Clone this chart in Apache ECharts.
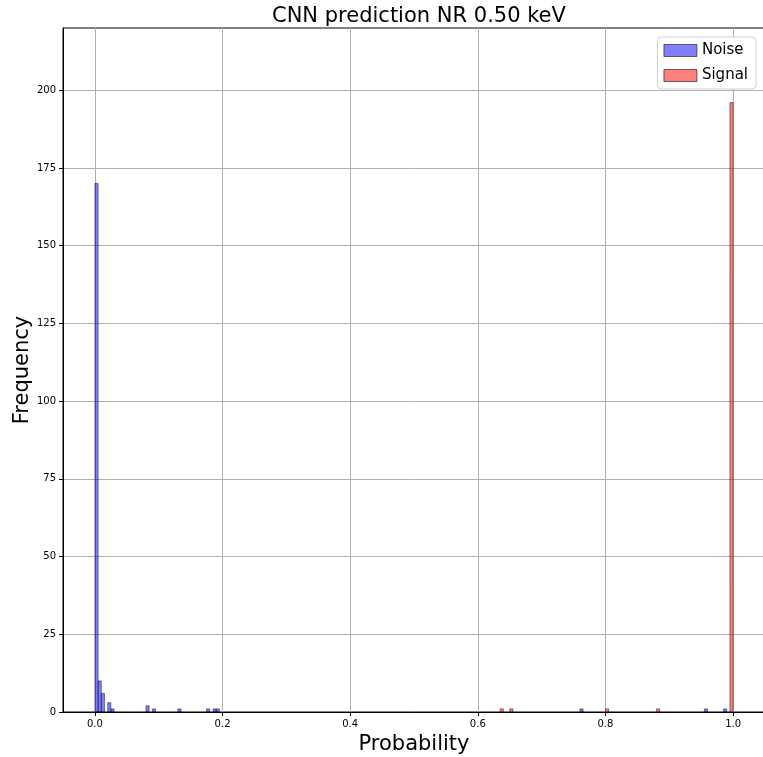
<!DOCTYPE html>
<html>
<head>
<meta charset="utf-8">
<script src="https://cdn.jsdelivr.net/npm/echarts@6/dist/echarts.min.js"></script>
<style>html,body{margin:0;padding:0;background:#fff}#c{width:763px;height:757px}</style>
</head>
<body>
<div id="c"></div>
<script>
const titleText = 'CNN prediction NR 0.50 keV';
const binWidth = 0.005;
const noiseBinStart = [0.0, 0.005, 0.01, 0.02, 0.025, 0.08, 0.09, 0.13, 0.175, 0.185, 0.19, 0.76, 0.955, 0.985];
const noiseCounts   = [170, 10, 6, 3, 1, 2, 1, 1, 1, 1, 1, 1, 1, 1];
const signalBinStart = [0.635, 0.65, 0.8, 0.88, 0.995];
const signalCounts   = [1, 1, 1, 1, 196];
const xTicks = [0.0, 0.2, 0.4, 0.6, 0.8, 1.0];
const yTicks = [0, 25, 50, 75, 100, 125, 150, 175, 200];

const FONT = 'DejaVu Sans';
function histSeries(name, starts, counts, fill) {
  return {
    name: name,
    type: 'custom',
    itemStyle: { color: fill, borderColor: 'rgba(0,0,0,0.5)' },
    data: starts.map((s, i) => [s, s + binWidth, counts[i]]),
    encode: { x: [0, 1], y: 2 },
    renderItem: function (params, api) {
      const p0 = api.coord([api.value(0), api.value(2)]);
      const p1 = api.coord([api.value(1), 0]);
      return {
        type: 'rect',
        shape: { x: p0[0], y: p0[1], width: p1[0] - p0[0], height: p1[1] - p0[1] },
        style: { fill: fill, stroke: 'rgba(0,0,0,0.55)', lineWidth: 0.8 }
      };
    }
  };
}

const chart = echarts.init(document.getElementById('c'), null, { renderer: 'canvas' });
chart.setOption({
  animation: false,
  backgroundColor: '#fff',
  title: {
    text: titleText, left: 267, top: 1,
    textStyle: { fontFamily: FONT, fontSize: 21, fontWeight: 'normal', color: '#000' }
  },
  legend: {
    orient: 'vertical', right: 7, top: 37,
    itemWidth: 33, itemHeight: 12, itemGap: 10,
    backgroundColor: '#fff', borderColor: '#d0d0d0', borderWidth: 1, borderRadius: 4,
    padding: [6, 8, 6, 6],
    textStyle: { fontFamily: FONT, fontSize: 15, color: '#000' },
    data: [
      { name: 'Noise', icon: 'rect', itemStyle: { color: 'rgba(0,0,255,0.5)', borderColor: 'rgba(0,0,0,0.55)', borderWidth: 1 } },
      { name: 'Signal', icon: 'rect', itemStyle: { color: 'rgba(255,0,0,0.5)', borderColor: 'rgba(0,0,0,0.55)', borderWidth: 1 } }
    ]
  },
  grid: {
    left: 63, right: -2, top: 28, bottom: 45,
    show: true, borderColor: '#000', borderWidth: 1, containLabel: false,
    outerBoundsMode: 'none'
  },
  xAxis: {
    type: 'value', min: -0.05, max: 1.05,
    name: 'Probability', nameLocation: 'middle', nameGap: 22, nameMoveOverlap: false,
    nameTextStyle: { fontFamily: FONT, fontSize: 21, color: '#000' },
    axisLine: { show: true, onZero: false, lineStyle: { color: '#000' } },
    axisTick: { show: true, length: 4, customValues: xTicks, lineStyle: { color: '#000' } },
    axisLabel: { customValues: xTicks, fontFamily: FONT, fontSize: 10, color: '#000', margin: 7,
      formatter: v => v.toFixed(1) },
    splitLine: { show: true, lineStyle: { color: '#b0b0b0', width: 1 } }
  },
  yAxis: {
    type: 'value', min: 0, max: 220,
    name: 'Frequency', nameLocation: 'middle', nameGap: 30, nameMoveOverlap: false,
    nameTextStyle: { fontFamily: FONT, fontSize: 21, color: '#000' },
    axisLine: { show: true, onZero: false, lineStyle: { color: '#000' } },
    axisTick: { show: true, length: 4, customValues: yTicks, lineStyle: { color: '#000' } },
    axisLabel: { customValues: yTicks, fontFamily: FONT, fontSize: 10, color: '#000', margin: 7 },
    splitLine: { show: true, lineStyle: { color: '#b0b0b0', width: 1 } }
  },
  series: [
    histSeries('Noise', noiseBinStart, noiseCounts, 'rgba(0,0,255,0.5)'),
    histSeries('Signal', signalBinStart, signalCounts, 'rgba(255,0,0,0.5)')
  ]
});
</script>
</body>
</html>
